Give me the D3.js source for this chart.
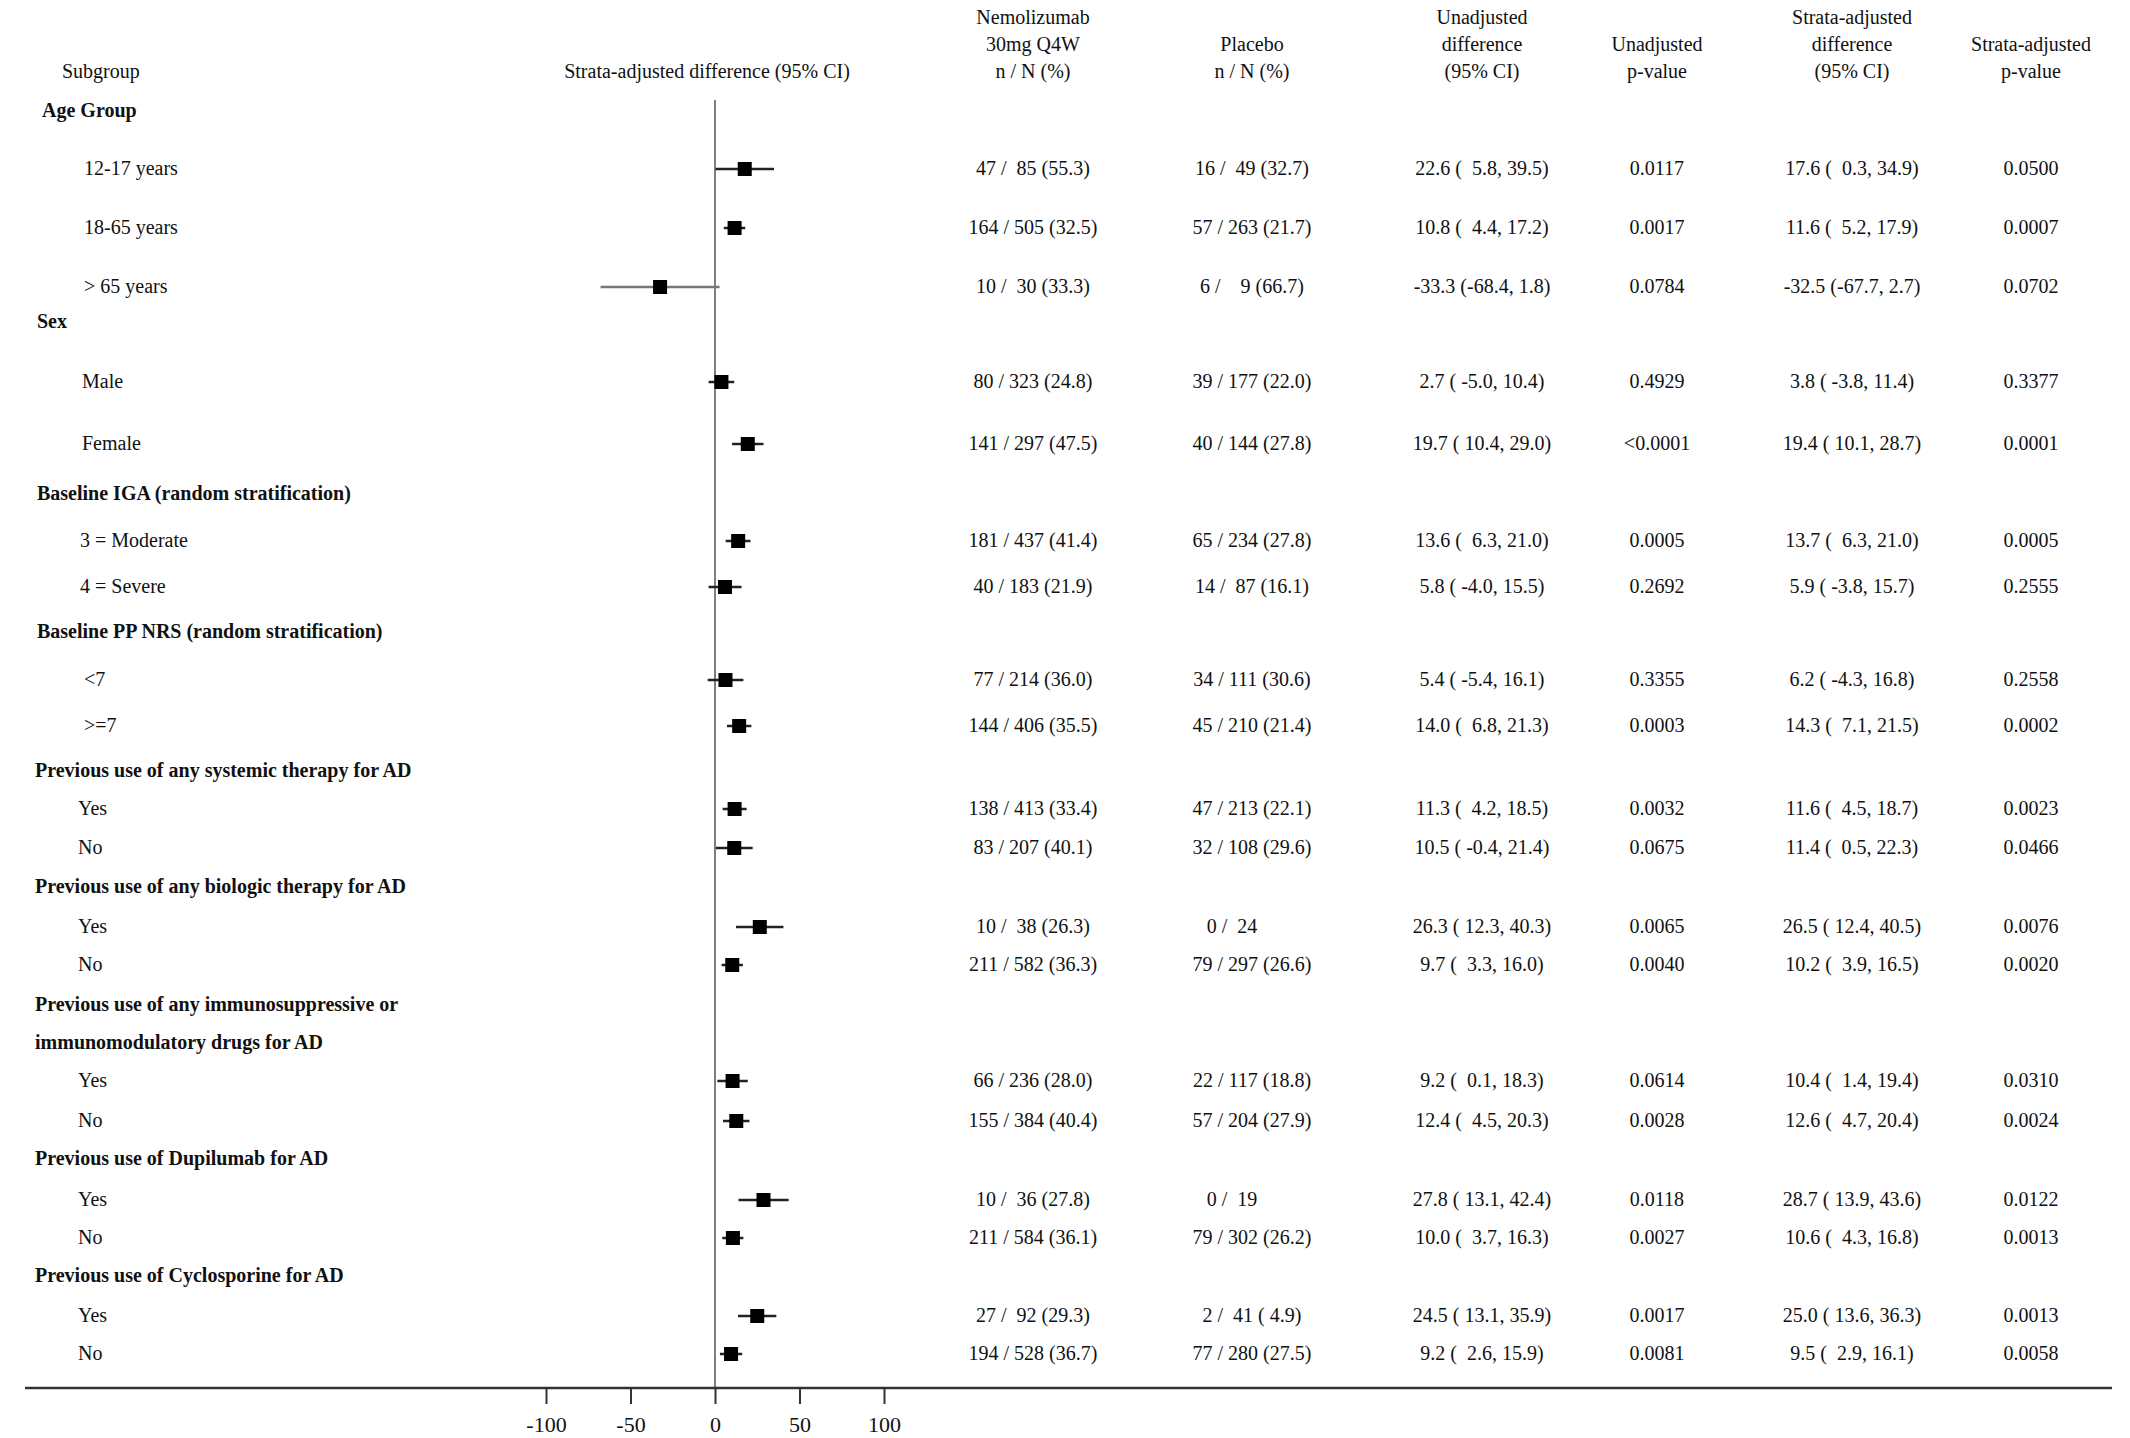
<!DOCTYPE html>
<html><head><meta charset="utf-8">
<script src="https://cdn.jsdelivr.net/npm/d3@7"></script>
<style>body{margin:0;background:#fff}text{font-family:"Liberation Serif","Times New Roman",serif;font-size:20px;fill:#111;white-space:pre}</style>
</head><body><svg id="c" width="2130" height="1438"></svg>
<script>
// rows: [label, level(0=header,1=item), y]
const labels = ["Age Group","12-17 years","18-65 years","> 65 years","Sex","Male","Female",
  "Baseline IGA (random stratification)","3 = Moderate","4 = Severe",
  "Baseline PP NRS (random stratification)","<7",">=7",
  "Previous use of any systemic therapy for AD","Yes","No",
  "Previous use of any biologic therapy for AD","Yes","No",
  "Previous use of any immunosuppressive or","immunomodulatory drugs for AD","Yes","No",
  "Previous use of Dupilumab for AD","Yes","No",
  "Previous use of Cyclosporine for AD","Yes","No"];
const levels = [0,1,1,1,0,1,1,0,1,1,0,1,1,0,1,1,0,1,1,0,0,1,1,0,1,1,0,1,1];
const rowY = [111,169,228,287,322,382,444,494,541,587,632,680,726,771,809,848,887,927,965,1005,1043,1081,1121,1159,1200,1238,1276,1316,1354];
const labelX = [42,84,84,84,37,82,82,37,80,80,37,84,84,35,78,78,35,78,78,35,35,78,78,35,78,78,35,78,78];

// item rows only (in order)
const est = [17.6,11.6,-32.5,3.8,19.4,13.7,5.9,6.2,14.3,11.6,11.4,26.5,10.2,10.4,12.6,28.7,10.6,25.0,9.5];
const lo  = [0.3,5.2,-67.7,-3.8,10.1,6.3,-3.8,-4.3,7.1,4.5,0.5,12.4,3.9,1.4,4.7,13.9,4.3,13.6,2.9];
const hi  = [34.9,17.9,2.7,11.4,28.7,21.0,15.7,16.8,21.5,18.7,22.3,40.5,16.5,19.4,20.4,43.6,16.8,36.3,16.1];
const nemo = ["47 /  85 (55.3)","164 / 505 (32.5)","10 /  30 (33.3)","80 / 323 (24.8)","141 / 297 (47.5)","181 / 437 (41.4)","40 / 183 (21.9)","77 / 214 (36.0)","144 / 406 (35.5)","138 / 413 (33.4)","83 / 207 (40.1)","10 /  38 (26.3)","211 / 582 (36.3)","66 / 236 (28.0)","155 / 384 (40.4)","10 /  36 (27.8)","211 / 584 (36.1)","27 /  92 (29.3)","194 / 528 (36.7)"];
const plac = ["16 /  49 (32.7)","57 / 263 (21.7)","6 /    9 (66.7)","39 / 177 (22.0)","40 / 144 (27.8)","65 / 234 (27.8)","14 /  87 (16.1)","34 / 111 (30.6)","45 / 210 (21.4)","47 / 213 (22.1)","32 / 108 (29.6)","0 /  24        ","79 / 297 (26.6)","22 / 117 (18.8)","57 / 204 (27.9)","0 /  19        ","79 / 302 (26.2)","2 /  41 ( 4.9)","77 / 280 (27.5)"];
const unDiff = ["22.6 (  5.8, 39.5)","10.8 (  4.4, 17.2)","-33.3 (-68.4, 1.8)","2.7 ( -5.0, 10.4)","19.7 ( 10.4, 29.0)","13.6 (  6.3, 21.0)","5.8 ( -4.0, 15.5)","5.4 ( -5.4, 16.1)","14.0 (  6.8, 21.3)","11.3 (  4.2, 18.5)","10.5 ( -0.4, 21.4)","26.3 ( 12.3, 40.3)","9.7 (  3.3, 16.0)","9.2 (  0.1, 18.3)","12.4 (  4.5, 20.3)","27.8 ( 13.1, 42.4)","10.0 (  3.7, 16.3)","24.5 ( 13.1, 35.9)","9.2 (  2.6, 15.9)"];
const unP = ["0.0117","0.0017","0.0784","0.4929","<0.0001","0.0005","0.2692","0.3355","0.0003","0.0032","0.0675","0.0065","0.0040","0.0614","0.0028","0.0118","0.0027","0.0017","0.0081"];
const stDiff = ["17.6 (  0.3, 34.9)","11.6 (  5.2, 17.9)","-32.5 (-67.7, 2.7)","3.8 ( -3.8, 11.4)","19.4 ( 10.1, 28.7)","13.7 (  6.3, 21.0)","5.9 ( -3.8, 15.7)","6.2 ( -4.3, 16.8)","14.3 (  7.1, 21.5)","11.6 (  4.5, 18.7)","11.4 (  0.5, 22.3)","26.5 ( 12.4, 40.5)","10.2 (  3.9, 16.5)","10.4 (  1.4, 19.4)","12.6 (  4.7, 20.4)","28.7 ( 13.9, 43.6)","10.6 (  4.3, 16.8)","25.0 ( 13.6, 36.3)","9.5 (  2.9, 16.1)"];
const stP = ["0.0500","0.0007","0.0702","0.3377","0.0001","0.0005","0.2555","0.2558","0.0002","0.0023","0.0466","0.0076","0.0020","0.0310","0.0024","0.0122","0.0013","0.0013","0.0058"];
const ticks = [-100,-50,0,50,100];

const colHeads = [
  {x:1033, lines:["Nemolizumab","30mg Q4W","n / N (%)"]},
  {x:1252, lines:["Placebo","n / N (%)"]},
  {x:1482, lines:["Unadjusted","difference","(95% CI)"]},
  {x:1657, lines:["Unadjusted","p-value"]},
  {x:1852, lines:["Strata-adjusted","difference","(95% CI)"]},
  {x:2031, lines:["Strata-adjusted","p-value"]}
];
const colData = [nemo, plac, unDiff, unP, stDiff, stP];

const svg = d3.select("#c");
const x = d3.scaleLinear().domain([-100,100]).range([546,884]);
const itemY = rowY.filter((_, i) => levels[i] === 1);

// headers
svg.append("text").attr("x",62).attr("y",78).text("Subgroup");
svg.append("text").attr("x",707).attr("y",78).attr("text-anchor","middle").text("Strata-adjusted difference (95% CI)");
colHeads.forEach(c => {
  const base = 78 - (c.lines.length - 1) * 27;
  c.lines.forEach((l, j) => svg.append("text").attr("x", c.x).attr("y", base + j * 27)
    .attr("text-anchor","middle").text(l));
});

// row labels
svg.selectAll("text.lab").data(labels).enter().append("text").attr("class","lab")
  .attr("x",(d,i)=>labelX[i]).attr("y",(d,i)=>rowY[i]+6)
  .style("font-weight",(d,i)=>levels[i]===0?"bold":"normal").text(d=>d);

// data columns
colData.forEach((col, k) => {
  svg.append("g").selectAll("text").data(col).enter().append("text")
    .attr("x", colHeads[k].x).attr("y",(d,i)=>itemY[i]+6).attr("text-anchor","middle").text(d=>d);
});

// zero reference line
svg.append("line").attr("x1",x(0)).attr("x2",x(0)).attr("y1",100).attr("y2",1388)
  .style("stroke","#555").style("stroke-width",1.5);

// CIs and squares
const g = svg.append("g");
g.selectAll("line.ci").data(est).enter().append("line")
  .attr("x1",(d,i)=>x(lo[i])).attr("x2",(d,i)=>x(hi[i]))
  .attr("y1",(d,i)=>itemY[i]).attr("y2",(d,i)=>itemY[i])
  .style("stroke",(d,i)=>hi[i]-lo[i]>40?"#777":"#222").style("stroke-width",2.5);
g.selectAll("rect").data(est).enter().append("rect")
  .attr("x",d=>x(d)-7).attr("y",(d,i)=>itemY[i]-7).attr("width",14).attr("height",14).style("fill","#000");

// axis
svg.append("line").attr("x1",25).attr("x2",2112).attr("y1",1388).attr("y2",1388)
  .style("stroke","#333").style("stroke-width",2.5);
const ax = svg.append("g").attr("transform","translate(0,1388)")
  .call(d3.axisBottom(x).tickValues(ticks).tickSize(16).tickPadding(12).tickFormat(d => String(d)));
ax.select(".domain").remove();
ax.selectAll("line").style("stroke","#333").style("stroke-width",2);
ax.selectAll("text").style("font-size","22px").style("font-family","Liberation Serif").attr("fill","#111");
</script></body></html>
